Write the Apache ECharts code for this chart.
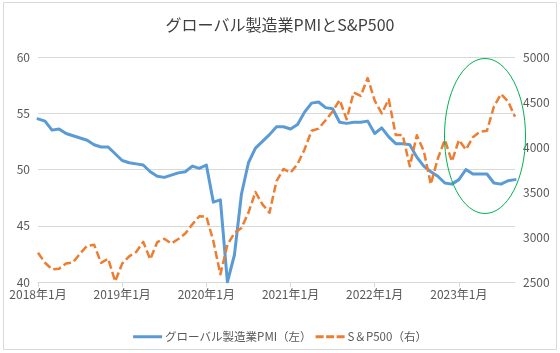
<!DOCTYPE html>
<html>
<head>
<meta charset="utf-8">
<script src="https://cdn.jsdelivr.net/npm/echarts@6/dist/echarts.min.js"></script>
<style>
  html, body { margin: 0; padding: 0; background: #fff; }
  #main { width: 560px; height: 353px; }
</style>
</head>
<body>
<div id="main"></div>
<script>
// months 2018年1月 .. 2023年9月
const months = []
for (let y = 2018; y <= 2023; y++) {
  for (let m = 1; m <= 12; m++) {
    if (y === 2023 && m > 9) break
    months.push(y + '年' + m + '月')
  }
}

const pmi = [
  54.5, 54.3, 53.5, 53.6, 53.2, 53.0, 52.8, 52.6, 52.2, 52.0, 52.0, 51.4,
  50.8, 50.6, 50.5, 50.4, 49.8, 49.4, 49.3, 49.5, 49.7, 49.8, 50.3, 50.1,
  50.4, 47.1, 47.3, 40.0, 42.4, 47.8, 50.6, 51.9, 52.5, 53.1, 53.8, 53.8,
  53.6, 54.0, 55.1, 55.9, 56.0, 55.5, 55.4, 54.2, 54.1, 54.2, 54.2, 54.3,
  53.2, 53.7, 52.9, 52.3, 52.3, 52.2, 51.1, 50.3, 49.8, 49.4, 48.8, 48.7,
  49.1, 50.0, 49.6, 49.6, 49.6, 48.8, 48.7, 49.0, 49.1
]

const sp500 = [
  2824, 2714, 2641, 2648, 2705, 2718, 2816, 2902, 2914, 2712, 2760, 2507,
  2704, 2785, 2834, 2946, 2752, 2942, 2980, 2927, 2977, 3038, 3141, 3231,
  3226, 2954, 2585, 2912, 3044, 3100, 3271, 3500, 3363, 3270, 3622, 3756,
  3714, 3811, 3973, 4181, 4204, 4298, 4395, 4523, 4308, 4605, 4567, 4766,
  4516, 4374, 4530, 4132, 4132, 3785, 4130, 3955, 3586, 3872, 4080, 3840,
  4077, 3970, 4109, 4170, 4180, 4450, 4589, 4508, 4335
]

const names = ['グローバル製造業PMI（左）', 'S＆P500（右）']

const txt = '#595959'
const font = '"Noto Sans CJK JP", "Noto Sans", sans-serif'

const chart = echarts.init(document.getElementById('main'))
chart.setOption({
  animation: false,
  textStyle: { fontFamily: font },
  title: {
    text: 'グローバル製造業PMIとS&P500',
    left: 'center',
    top: 12,
    textStyle: { fontSize: 16, fontWeight: 'normal', color: '#404040', fontFamily: font }
  },
  legend: {
    top: 326,
    left: 'center',
    itemWidth: 29,
    itemHeight: 3,
    itemGap: 4,
    textStyle: { color: txt, fontSize: 11.5, fontFamily: font, padding: [0, 0, 0, -2] },
    data: [
      { name: names[0], icon: 'rect' },
      { name: names[1], icon: 'path://M0,0h8v3h-8z M10.5,0h8v3h-8z M21,0h8v3h-8z' }
    ]
  },
  grid: { left: 38, right: 45, top: 57, bottom: 71 },
  xAxis: {
    type: 'category',
    boundaryGap: false,
    data: months,
    axisLine: { lineStyle: { color: '#d9d9d9' } },
    axisTick: { interval: 11, length: 5, lineStyle: { color: '#d9d9d9' } },
    axisLabel: { interval: 11, color: txt, fontSize: 12, margin: 6, fontFamily: font }
  },
  yAxis: [
    {
      type: 'value', min: 40, max: 60, interval: 5,
      axisLine: { show: false }, axisTick: { show: false },
      axisLabel: { color: txt, fontSize: 12, margin: 8, fontFamily: font },
      splitLine: { lineStyle: { color: '#d9d9d9' } }
    },
    {
      type: 'value', min: 2500, max: 5000, interval: 500,
      axisLine: { show: false }, axisTick: { show: false },
      axisLabel: { color: txt, fontSize: 12, margin: 8, fontFamily: font, formatter: v => String(v) },
      splitLine: { show: false }
    }
  ],
  series: [
    {
      name: names[0], type: 'line', yAxisIndex: 0, data: pmi,
      symbol: 'none', z: 2,
      lineStyle: { color: '#5b9bd5', width: 3, cap: 'round', join: 'round' },
      itemStyle: { color: '#5b9bd5' }
    },
    {
      name: names[1], type: 'line', yAxisIndex: 1, data: sp500,
      symbol: 'none', z: 3,
      lineStyle: { color: '#ed7d31', width: 2.5, type: [8, 3.5], join: 'round' },
      itemStyle: { color: '#ed7d31' }
    }
  ],
  graphic: [
    {
      type: 'rect', silent: true, z: -10,
      shape: { x: 3.5, y: 2.5, width: 553, height: 347 },
      style: { fill: 'none', stroke: '#d9d9d9', lineWidth: 1 }
    },
    {
      type: 'ellipse', silent: true, z: 100,
      shape: { cx: 485, cy: 136, rx: 40.5, ry: 77.5 },
      style: { fill: 'none', stroke: '#00b050', lineWidth: 1 }
    }
  ]
})
</script>
</body>
</html>
